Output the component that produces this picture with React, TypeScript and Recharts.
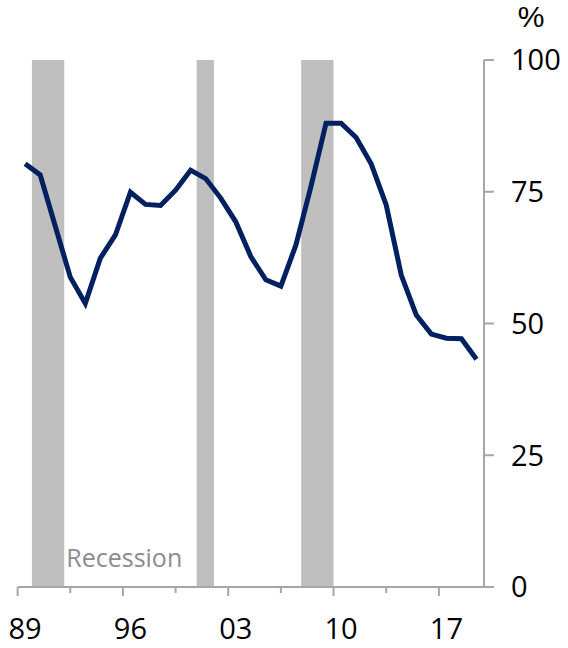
import React from 'react';
import { LineChart, Line, XAxis, YAxis, ReferenceArea } from 'recharts';

// Annual share, %
const years = [
  1989, 1990, 1991, 1992, 1993, 1994, 1995, 1996, 1997, 1998, 1999, 2000,
  2001, 2002, 2003, 2004, 2005, 2006, 2007, 2008, 2009, 2010, 2011, 2012,
  2013, 2014, 2015, 2016, 2017, 2018, 2019,
];
const shares = [
  80.3, 78.2, 68.5, 58.8, 53.8, 62.4, 66.8, 74.9, 72.6, 72.4, 75.3, 79.1,
  77.5, 73.8, 69.3, 62.7, 58.3, 57.1, 64.9, 76.0, 88.0, 88.0, 85.3, 80.3,
  72.5, 59.2, 51.6, 48.0, 47.2, 47.1, 43.2,
];

// Recession periods (start, end) in fractional years
const recessions: [number, number][] = [
  [1989.45, 1991.6],
  [2000.4, 2001.55],
  [2007.35, 2009.5],
];

// x-axis tick marks sit on category boundaries; labels sit on the years
const tickMarks = [1988.5, 1992, 1995.5, 1999, 2002.5, 2006, 2009.5, 2013, 2016.5];
const majorTickMarks = [1988.5, 1995.5, 2002.5, 2009.5, 2016.5];
const labelYears = [1989, 1996, 2003, 2010, 2017];
const yTicks = [0, 25, 50, 75, 100];

const data = years.map((year, i) => ({ year, value: shares[i] }));
const xTicks = [...tickMarks, ...labelYears].sort((a, b) => a - b);

const FONT = '"Open Sans", "Liberation Sans", sans-serif';
const AXIS = '#a6a6a6';
const LINE = '#002060';
const SHADE = '#bfbfbf';

function XTick(props: any) {
  const { x, y, payload } = props;
  const v = payload.value as number;
  if (labelYears.includes(v)) {
    return (
      <text x={x} y={y + 52} textAnchor="middle" fontFamily={FONT} fontSize={29} fill="#000">
        {String(v % 100).padStart(2, '0')}
      </text>
    );
  }
  const len = majorTickMarks.includes(v) ? 9 : 6;
  return <line x1={x} x2={x} y1={y} y2={y + len} stroke={AXIS} strokeWidth={2} />;
}

function RecessionLabel(props: any) {
  const vb = props.viewBox;
  return (
    <text
      x={vb.x + vb.width + 2}
      y={vb.y + vb.height - 20}
      fontFamily={FONT}
      fontSize={25}
      fill="#8c8c8c"
    >
      Recession
    </text>
  );
}

// Unit caption above the value axis
function PercentLabel(props: any) {
  const vb = props.viewBox;
  return (
    <text
      x={vb.x + vb.width / 2 + 5}
      y={vb.y - 33}
      textAnchor="middle"
      fontFamily='"Liberation Sans", sans-serif'
      fontSize={30}
      fill="#000"
    >
      %
    </text>
  );
}

export default function App() {
  return (
    <div style={{ position: 'absolute', left: 0, top: 0, width: 568, height: 648, background: '#fff' }}>
      <LineChart
        width={568}
        height={648}
        data={data}
        margin={{ top: 60, right: 0, bottom: 0, left: 17.6 }}
      >
        <XAxis
          dataKey="year"
          type="number"
          domain={[1988.5, 2019.5]}
          ticks={xTicks}
          interval={0}
          tick={<XTick />}
          tickLine={false}
          tickSize={0}
          tickMargin={0}
          axisLine={{ stroke: AXIS, strokeWidth: 2 }}
          height={61}
          allowDataOverflow
        />
        <YAxis
          orientation="right"
          type="number"
          domain={[0, 100]}
          ticks={yTicks}
          interval={0}
          width={84}
          tickSize={10}
          tickMargin={17}
          axisLine={{ stroke: AXIS, strokeWidth: 2 }}
          tickLine={{ stroke: AXIS, strokeWidth: 2 }}
          tick={{ fill: '#000', fontSize: 29, fontFamily: FONT }}
          label={PercentLabel}
        />
        {recessions.map(([start, end], i) => (
          <ReferenceArea
            key={i}
            x1={start}
            x2={end}
            y1={0}
            y2={100}
            fill={SHADE}
            fillOpacity={1}
            stroke="none"
            label={i === 0 ? RecessionLabel : undefined}
          />
        ))}
        <Line
          type="linear"
          dataKey="value"
          stroke={LINE}
          strokeWidth={5}
          dot={false}
          activeDot={false}
          isAnimationActive={false}
        />
      </LineChart>
    </div>
  );
}
